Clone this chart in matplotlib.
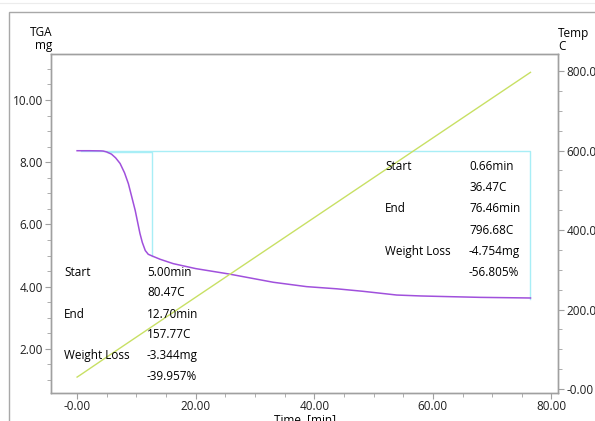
import numpy as np
import matplotlib.pyplot as plt
from matplotlib.ticker import MultipleLocator, FormatStrFormatter
from matplotlib.patches import Rectangle
from matplotlib.lines import Line2D

plt.rcParams['font.family'] = ['Open Sans', 'DejaVu Sans']

# TGA trace (time in min, mass in mg)
time = [0.0, 2.0, 4.0, 4.4, 5.0, 5.8, 6.5, 7.25, 8.0, 8.65, 9.2, 9.8, 10.2, 10.6,
        11.0, 11.5, 12.0, 12.6, 14.0, 16.2, 20.0, 25.5, 30.0, 33.1, 38.7, 43.8,
        48.2, 53.9, 58.0, 62.3, 68.0, 76.46]
mass = [8.37, 8.37, 8.365, 8.36, 8.33, 8.26, 8.14, 7.96, 7.66, 7.31, 6.9, 6.45, 6.08, 5.71,
        5.42, 5.16, 5.04, 4.99, 4.88, 4.74, 4.58, 4.41, 4.25, 4.14, 4.00, 3.93,
        3.85, 3.73, 3.70, 3.68, 3.655, 3.635]

# furnace temperature (C)
temp_time = [0.0, 0.66, 5.00, 12.70, 76.46]
temp = [30.0, 36.47, 80.47, 157.77, 796.68]

# step analysis results
steps = [
    # start min, start C, end min, end C, loss mg, loss %, start mass
    (5.00, 80.47, 12.70, 157.77, -3.344, -39.957, 8.33),
    (0.66, 36.47, 76.46, 796.68, -4.754, -56.805, 8.37),
]

W, H = 595, 421
fig = plt.figure(figsize=(W / 100, H / 100), dpi=100)

# outer window frame
fig.add_artist(Line2D([0, 1], [1 - 3 / H, 1 - 3 / H], color='#ececec', lw=0.8))
fig.add_artist(Rectangle((9 / W, -0.1), 1.2, 1.1 - 12 / H, fill=False,
                         edgecolor='#a8a8a8', lw=1.0))

ax = fig.add_axes([51 / W, 1 - 393 / H, (558 - 51) / W, (393 - 54) / H])
ax2 = ax.twinx()

ax.plot(time, mass, color='#a050dc', lw=1.1, zorder=3)
ax2.plot(temp_time, temp, color='#c8e064', lw=1.0)

# step boxes
cyan = '#a8eef6'
for t0, c0, t1, c1, loss, pct, m0 in steps:
    ax.plot([t0, t1, t1], [m0, m0, m0 + loss], color=cyan, lw=1.0, zorder=2)

ax.set_xlim(-4.4, 81.1)
ax.set_ylim(0.58, 11.48)
ax2.set_ylim(-10, 842.8)

gray = '#a0a0a0'
for a in (ax, ax2):
    for s in a.spines.values():
        s.set_color(gray)
        s.set_linewidth(1.0)
    a.tick_params(which='both', color=gray, direction='out', labelsize=8.5,
                  labelcolor='#202020', pad=2)
    a.tick_params(which='major', length=4)
    a.tick_params(which='minor', length=3)
ax.tick_params(axis='x', pad=1)

ax.xaxis.set_major_locator(MultipleLocator(20))
ax.xaxis.set_minor_locator(MultipleLocator(5))
ax.yaxis.set_major_locator(MultipleLocator(2))
ax.yaxis.set_minor_locator(MultipleLocator(0.5))
ax2.yaxis.set_major_locator(MultipleLocator(200))
ax2.yaxis.set_minor_locator(MultipleLocator(50))
fmt = FormatStrFormatter('%.2f')
ax.xaxis.set_major_formatter(lambda v, p: '-0.00' if abs(v) < 1e-9 else f'{v:.2f}')
ax.yaxis.set_major_formatter(fmt)
ax2.yaxis.set_major_formatter(lambda v, p: '-0.00' if abs(v) < 1e-9 else f'{v:.2f}')

ax.set_xlabel('Time  [min]', fontsize=8.5, labelpad=0)
fig.text(52 / W, 1 - 32 / H, 'TGA', ha='right', va='center', fontsize=8.5)
fig.text(52 / W, 1 - 46 / H, 'mg', ha='right', va='center', fontsize=8.5)
fig.text(558 / W, 1 - 33 / H, 'Temp', ha='left', va='center', fontsize=8.5)
fig.text(558 / W, 1 - 47 / H, 'C', ha='left', va='center', fontsize=8.5)

# result tables
blocks = [(64, 147, 272), (385, 469, 167)]
for (xl, xv, y0), (t0, c0, t1, c1, loss, pct, m0) in zip(blocks, steps):
    rows = [
        ('Start', f'{t0:.2f}min'), ('', f'{c0:.2f}C'),
        ('End', f'{t1:.2f}min'), ('', f'{c1:.2f}C'),
        ('Weight Loss', f'{loss:.3f}mg'), ('', f'{pct:.3f}%'),
    ]
    offs = [0, 21, 42, 63, 84, 105]
    for (lab, val), dy in zip(rows, offs):
        y = 1 - (y0 + dy) / H
        if lab:
            fig.text(xl / W, y, lab, ha='left', va='center', fontsize=8.5)
        fig.text(xv / W, y, val, ha='left', va='center', fontsize=8.5)

fig.savefig('out.png', dpi=100)
